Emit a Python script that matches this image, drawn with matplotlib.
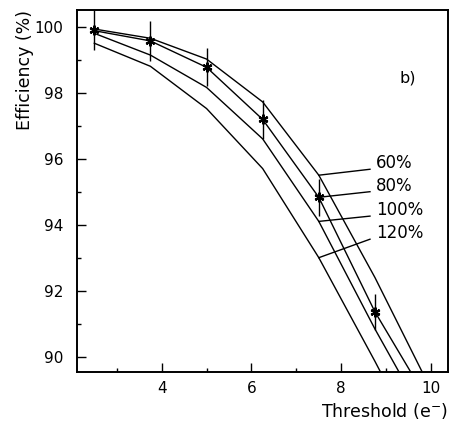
import numpy as np
import matplotlib
matplotlib.use("Agg")
import matplotlib.pyplot as plt
from matplotlib.ticker import MultipleLocator

# thresholds where the curves are sampled (e-)
thresholds = [2.5, 3.75, 5.0, 6.25, 7.5, 8.75, 10.0]

# simulated efficiency curves, one per noise level
curve_labels = ["60%", "80%", "100%", "120%"]
eff_60 = [99.93, 99.65, 99.02, 97.72, 95.50, 92.40, 89.0]
eff_80 = [99.88, 99.57, 98.77, 97.19, 94.83, 91.36, 88.5]
eff_100 = [99.80, 99.14, 98.16, 96.60, 94.10, 90.84, 87.8]
eff_120 = [99.50, 98.80, 97.52, 95.70, 93.00, 89.86, 86.6]

# measured points with errors
meas_x = [2.5, 3.75, 5.0, 6.25, 7.5, 8.75]
meas_eff = [99.90, 99.57, 98.77, 97.19, 94.83, 91.36]
meas_err = [0.60, 0.60, 0.58, 0.58, 0.57, 0.54]

plt.rcParams["font.family"] = ["DejaVu Sans"]
plt.rcParams["mathtext.default"] = "regular"

fig = plt.figure(figsize=(4.51, 4.23), dpi=100)
ax = fig.add_axes([0.170, 0.1213, 0.8226, 0.855])

curves = [eff_60, eff_80, eff_100, eff_120]
for eff in curves:
    ax.plot(thresholds, eff, color="black", lw=1.0, solid_joinstyle="miter")

ax.errorbar(meas_x, meas_eff, yerr=meas_err, fmt="none", ecolor="black",
            elinewidth=1.0, capsize=0)
ax.plot(meas_x, meas_eff, linestyle="none", marker=(6, 2, 0), ms=7,
        mew=1.6, color="black")
ax.plot(meas_x, meas_eff, linestyle="none", marker="o", ms=2.5, color="black")

# label lines from the curves at 7.5 out to the text
i_lab = thresholds.index(7.5)
lab_end_y = [95.68, 95.00, 94.26, 93.56]
for eff, lab, ye in zip(curves, curve_labels, lab_end_y):
    ax.plot([thresholds[i_lab], 8.64], [eff[i_lab], ye], color="black", lw=1.0)
    ax.text(8.77, ye + 0.18, lab, fontsize=12, ha="left", va="center")

ax.text(9.49, 98.45, "b)", fontsize=11.5, ha="center", va="center")

ax.set_xlim(2.107, 10.37)
ax.set_ylim(89.545, 100.506)
ax.xaxis.set_major_locator(MultipleLocator(2))
ax.xaxis.set_minor_locator(MultipleLocator(1))
ax.yaxis.set_major_locator(MultipleLocator(2))
ax.yaxis.set_minor_locator(MultipleLocator(1))
ax.tick_params(which="both", direction="in", width=1.0, labelsize=11)
ax.tick_params(which="major", length=6.5)
ax.tick_params(which="minor", length=3)
ax.tick_params(axis="x", pad=6.5)
ax.tick_params(axis="y", pad=9.5)
for sp in ax.spines.values():
    sp.set_linewidth(1.4)

ax.set_ylabel("Efficiency (%)", fontsize=12.5, loc="top")
ax.yaxis.set_label_coords(-0.115, 1.0)
ax.set_xlabel("Threshold (e$^{-}$)", fontsize=12.5, loc="right")
ax.xaxis.set_label_coords(1.0, -0.08)

fig.savefig("out.png", dpi=100)
